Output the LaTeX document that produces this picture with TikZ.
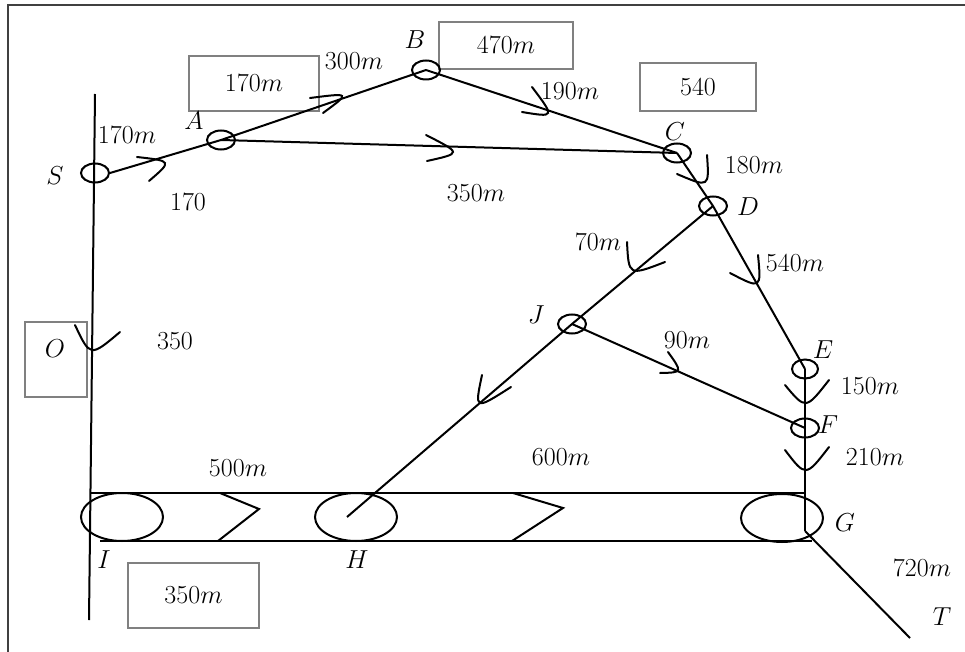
\documentclass[tikz,border=0pt]{standalone}
\usepackage{fix-cm}
\usetikzlibrary{shapes.geometric,calc}
\definecolor{boxgray}{RGB}{128,128,128}
\definecolor{framegray}{RGB}{64,64,64}
\begin{document}
\begin{tikzpicture}[x=1pt,y=-1pt,
  every node/.style={font=\fontsize{26}{30}\selectfont, inner sep=0pt},
  ln/.style={line width=2pt, black},
  mk/.style={line width=2pt, black, line cap=round},
  junc/.style={draw, ellipse, line width=2pt, minimum width=28pt, minimum height=19pt},
  big/.style={draw, ellipse, line width=2pt, minimum width=82pt, minimum height=48pt},
  gbox/.style={draw=boxgray, line width=2pt, rectangle}]
\useasboundingbox (0,0) rectangle (965,652);
% frame
\draw[framegray, line width=1.8pt] (8,652) -- (8,5) -- (965,5);

% gray boxes
\node[gbox, minimum width=130pt, minimum height=55pt] (b170) at (254,83.5) {$170m$};
\node[gbox, minimum width=134pt, minimum height=47pt] (b470) at (506,45.5) {$470m$};
\node[gbox, minimum width=116pt, minimum height=48pt] (b540) at (698,87) {$540$};
\node[gbox, minimum width=131pt, minimum height=65pt] (b350) at (193.5,595.5) {$350m$};
\draw[boxgray, line width=2pt] (25,322) rectangle (87,397);

% junction nodes
\node[junc] (S) at (95,173) {};
\node[junc] (A) at (221,140) {};
\node[junc] (B) at (426,70) {};
\node[junc] (C) at (677,153) {};
\node[junc] (D) at (713,206) {};
\node[junc] (J) at (572,324) {};
\node[junc, minimum width=26pt] (E) at (805,369) {};
\node[junc] (F) at (805,428) {};
\node[big] (I) at (122,517) {};
\node[big] (H) at (356,517) {};
\node[big] (G) at (782,518) {};
\coordinate (Ltop) at (95,94);
\coordinate (Lbot) at (89,620);
\coordinate (Gj) at (805,531);
\coordinate (Tend) at (910,638);

% connectors
\draw[ln] (Ltop) -- (Lbot);
\draw[ln] (S.east) -- (A.center) -- (B.center);
\draw[ln] (A.center) -- (C.center);
\draw[ln] (B.center) -- (C.center);
\draw[ln] (C.center) -- (D.center) -- (E.center);
\draw[ln] (D.center) -- (J.center) -- ($(H.center)+(-9,0)$);
\draw[ln] (J.center) -- (F.center);
\draw[ln] (E.center) -- (F.center) -- (Gj);
\draw[ln] (Gj) -- (Tend);

% band
\draw[ln] (91,493) -- (805,493);
\draw[ln] (100,541) -- (812,541);
\draw[ln] (220,493) -- (259,509) -- (218,541);
\draw[ln] (513,493) -- (563,508) -- (512,541);

% direction marks
\draw[mk] (137,157) .. controls (172.3,161) and (172.3,161) .. (149,181);
\draw[mk] (310,98) .. controls (350.5,92.8) and (350.5,92.8) .. (323,113);
\draw[mk] (426,135) .. controls (461.8,153.3) and (461.8,153.3) .. (427,161);
\draw[mk] (532,87) .. controls (555,117.5) and (555,117.5) .. (522,112);
\draw[mk] (707,155) .. controls (709.3,187.8) and (709.3,187.8) .. (677,174);
\draw[mk] (758,255) .. controls (761.3,289.3) and (761.3,289.3) .. (730,273);
\draw[mk] (627,242) .. controls (628.7,276) and (628.7,276) .. (665,262);
\draw[mk] (668,352) .. controls (682.7,372.5) and (682.7,372.5) .. (660,373);
\draw[mk] (482,375) .. controls (474.5,410.3) and (474.5,410.3) .. (511,387);
\draw[mk] (785,385) .. controls (805.7,409.8) and (805.7,409.8) .. (829,380);
\draw[mk] (785,450) .. controls (805.7,477.2) and (805.7,477.2) .. (829,447);
\draw[mk] (75,325) .. controls (90.2,357.2) and (90.2,357.2) .. (120,332);

% letter labels
\node (lS) at (55,176) {$S$};
\node (lA) at (194,121) {$A$};
\node (lB) at (415,40) {$B$};
\node (lC) at (675,132) {$C$};
\node (lD) at (748,207) {$D$};
\node (lJ) at (536,315) {$J$};
\node (lE) at (823,350) {$E$};
\node (lF) at (828,425) {$F$};
\node (lG) at (845,523) {$G$};
\node (lH) at (357,560) {$H$};
\node (lI) at (104,560) {$I$};
\node (lT) at (942,617) {$T$};
\node (lO) at (55,349) {$O$};

% distance labels
\node (d1) at (127,135) {$170m$};
\node (d2) at (188,202) {$170$};
\node (d3) at (354,61) {$300m$};
\node (d4) at (570,91) {$190m$};
\node (d5) at (476,193) {$350m$};
\node (d6) at (754,165) {$180m$};
\node (d7) at (795,263) {$540m$};
\node (d8) at (598,242) {$70m$};
\node (d9) at (687,340) {$90m$};
\node (d10) at (870,386) {$150m$};
\node (d11) at (875,457) {$210m$};
\node (d12) at (922,568) {$720m$};
\node (d13) at (175,341) {$350$};
\node (d14) at (238,468) {$500m$};
\node (d15) at (561,457) {$600m$};
\end{tikzpicture}
\end{document}
